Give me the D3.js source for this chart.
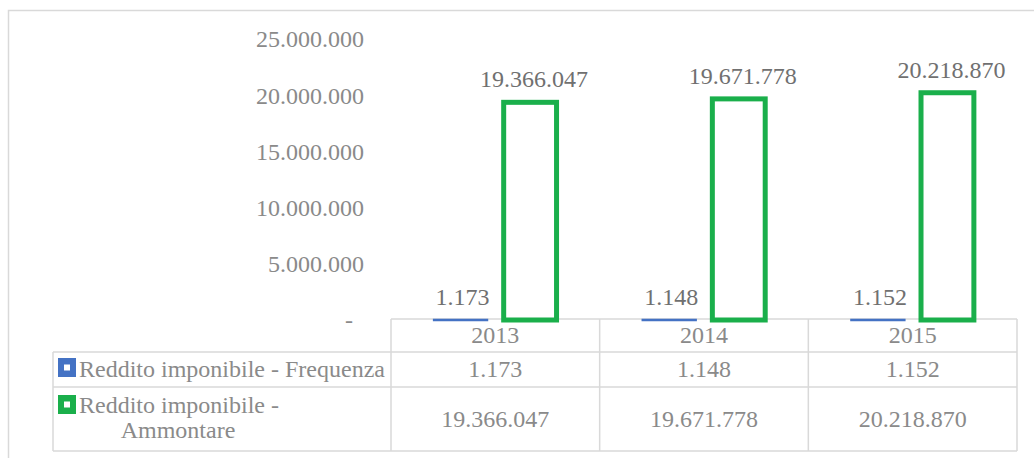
<!DOCTYPE html>
<html>
<head>
<meta charset="utf-8">
<script src="https://cdn.jsdelivr.net/npm/d3@7"></script>
<style>
  html, body { margin: 0; padding: 0; background: #fff; }
  svg { display: block; }
  text { font-family: "Liberation Serif", "Times New Roman", serif; }
</style>
</head>
<body>
<svg id="chart" width="1034" height="458"></svg>
<script>
// ---- Data ----
const categories = ["2013", "2014", "2015"];
const seriesNames = ["Reddito imponibile - Frequenza", "Reddito imponibile - Ammontare"];
const frequenza = [1173, 1148, 1152];
const ammontare = [19366047, 19671778, 20218870];
const yTicks = [0, 5000000, 10000000, 15000000, 20000000, 25000000];
const seriesColors = ["#4472c4", "#1aaf4b"];

const W = 1034, H = 458;
const svg = d3.select("#chart");
const locale = d3.formatLocale({ decimal: ",", thousands: ".", grouping: [3], currency: ["", ""] });
const fmt = locale.format(",d");
const tickFmt = v => v === 0 ? "-" : fmt(v);

const axisColor = "#8a8a8a";
const labelColor = "#707070";
const gridColor = "#d9d9d9";
const FS = 24;

// outer frame
svg.append("rect").attr("x", 8.5).attr("y", 10.5).attr("width", W + 20).attr("height", H + 20)
  .attr("fill", "none").attr("stroke", gridColor).attr("stroke-width", 1.5);

// scales
const x = d3.scaleBand().domain(categories).range([391, 1017]).padding(0);
const inner = d3.scaleBand().domain([0, 1]).range([0, x.bandwidth()]).paddingInner(0.24).paddingOuter(0.62);
const y = d3.scaleLinear().domain([0, 25000000]).range([320, 39]);

// y axis
const yAxis = d3.axisLeft(y).tickValues(yTicks).tickFormat(tickFmt).tickSize(0).tickPadding(0);
const gy = svg.append("g").attr("transform", "translate(364,0)").call(yAxis);
gy.select(".domain").remove();
gy.selectAll("text").attr("font-size", FS).attr("fill", axisColor)
  .attr("font-family", '"Liberation Serif", serif').attr("dy", "0.33em")
  .attr("dx", d => d === 0 ? -11 : 0);

// table grid
const tTop = 319, r1 = 352, r2 = 387, tBot = 451, legL = 53;
const lines = svg.append("g").attr("stroke", gridColor).attr("stroke-width", 1.5).attr("fill", "none");
const xEdges = [391].concat(categories.map(c => x(c) + x.bandwidth()));
lines.append("line").attr("x1", 391).attr("x2", 1017).attr("y1", tTop).attr("y2", tTop);
[r1, r2, tBot].forEach(yy => lines.append("line").attr("x1", legL).attr("x2", 1017).attr("y1", yy).attr("y2", yy));
xEdges.forEach(xx => lines.append("line").attr("x1", xx).attr("x2", xx).attr("y1", tTop).attr("y2", tBot));
lines.append("line").attr("x1", legL).attr("x2", legL).attr("y1", r1).attr("y2", tBot);

// bars
const allSeries = [frequenza, ammontare];
const strokeW = [2.5, 5];
const labelDx = [2, 4];
allSeries.forEach((vals, si) => {
  const g = svg.append("g");
  g.selectAll("rect").data(vals).join("rect")
    .attr("x", (d, i) => x(categories[i]) + inner(si))
    .attr("width", inner.bandwidth())
    .attr("y", d => y(d))
    .attr("height", d => Math.max(0.01, y(0) - y(d)))
    .attr("fill", "#fff")
    .attr("stroke", seriesColors[si])
    .attr("stroke-width", strokeW[si]);
  g.selectAll("text").data(vals).join("text")
    .attr("x", (d, i) => x(categories[i]) + inner(si) + inner.bandwidth() / 2 + labelDx[si])
    .attr("y", d => y(d) - 15)
    .attr("text-anchor", "middle")
    .attr("font-size", FS).attr("fill", labelColor)
    .text(d => fmt(d));
});

// table text
const tt = svg.append("g").attr("font-size", FS).attr("fill", axisColor).attr("text-anchor", "middle");
tt.selectAll(".yr").data(categories).join("text").attr("class", "yr")
  .attr("x", d => x(d) + x.bandwidth() / 2).attr("y", 343).text(d => d);
tt.selectAll(".v1").data(frequenza).join("text").attr("class", "v1")
  .attr("x", (d, i) => x(categories[i]) + x.bandwidth() / 2).attr("y", 377).text(d => fmt(d));
tt.selectAll(".v2").data(ammontare).join("text").attr("class", "v2")
  .attr("x", (d, i) => x(categories[i]) + x.bandwidth() / 2).attr("y", 427).text(d => fmt(d));

// legend cells
const leg = svg.append("g").attr("font-size", FS).attr("fill", axisColor);
function marker(yy, color) {
  leg.append("rect").attr("x", 58).attr("y", yy).attr("width", 18).attr("height", 19).attr("fill", color);
  leg.append("rect").attr("x", 64).attr("y", yy + 6.5).attr("width", 6).attr("height", 6).attr("fill", "#fff");
}
marker(358, seriesColors[0]);
leg.append("text").attr("x", 79).attr("y", 377).text(seriesNames[0]);
marker(395, seriesColors[1]);
const parts = seriesNames[1].split(" - ");
leg.append("text").attr("x", 79).attr("y", 413).text(parts[0] + " -");
leg.append("text").attr("x", 178).attr("y", 438).attr("text-anchor", "middle").text(parts[1]);
</script>
</body>
</html>
